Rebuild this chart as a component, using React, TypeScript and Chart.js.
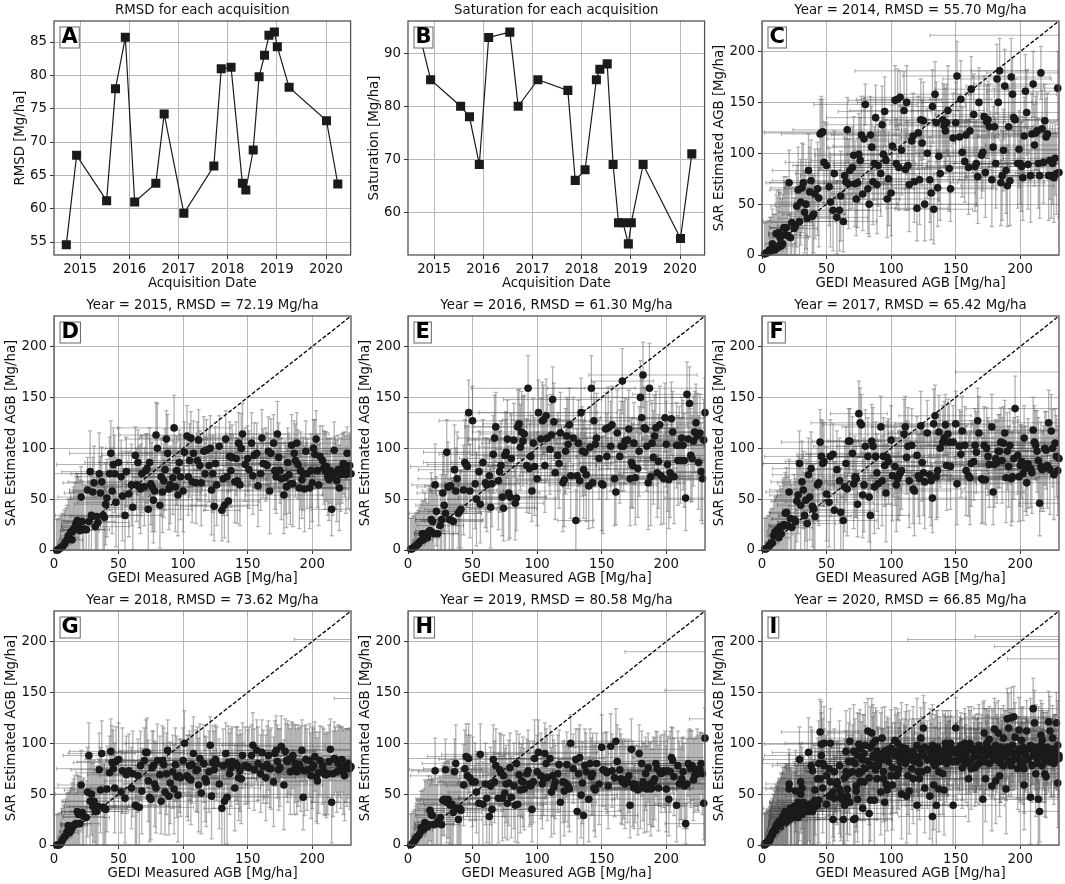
import { useEffect, useRef } from "react";
import Chart from "chart.js/auto";

const acquisitionDates = [
  2014.72, 2014.93, 2015.54, 2015.72, 2015.92, 2016.11, 2016.54, 2016.71, 2017.11, 2017.72, 2017.87, 2018.07,
  2018.3, 2018.37, 2018.52, 2018.64, 2018.75, 2018.84, 2018.95, 2019.01, 2019.25, 2020.01, 2020.24,
];
const rmsdValues = [
  54.6, 68, 61.2, 78, 85.7, 61, 63.8, 74.2, 59.3, 66.4, 81, 81.2, 63.8, 62.8, 68.8, 79.8, 83, 86, 86.5, 84.3, 78.2,
  73.2, 63.7,
];
const saturationValues = [93, 85, 80, 78, 69, 93, 94, 80, 85, 83, 66, 68, 85, 87, 88, 69, 58, 58, 54, 58, 69, 55, 71];

const yearTicks = [2015, 2016, 2017, 2018, 2019, 2020];
const rmsdTicks = [55, 60, 65, 70, 75, 80, 85];
const saturationTicks = [60, 70, 80, 90];
const agbTicks = [0, 50, 100, 150, 200];

// GEDI footprints are the same in every year
const gediAgb = [
  2, 3, 4, 5, 6, 7, 8, 9, 10, 11,
  12, 13, 14, 15, 16, 17, 18, 19, 20, 21,
  22, 23, 25, 26, 27, 28, 29, 30, 31, 32,
  33, 34, 35, 36, 37, 38, 39, 40, 41, 43,
  44, 45, 46, 47, 48, 50, 52, 53, 55, 56,
  58, 60, 61, 63, 64, 65, 66, 67, 68, 70,
  71, 72, 73, 74, 75, 76, 77, 78, 79, 80,
  82, 83, 84, 85, 86, 87, 88, 89, 90, 92,
  93, 94, 95, 96, 97, 98, 100, 101, 103, 104,
  105, 106, 107, 108, 110, 111, 112, 113, 114, 116,
  117, 118, 120, 121, 122, 123, 124, 125, 126, 128,
  130, 131, 132, 133, 134, 135, 136, 137, 138, 140,
  141, 142, 143, 144, 145, 146, 148, 150, 151, 153,
  154, 155, 157, 158, 160, 161, 162, 164, 165, 166,
  167, 168, 170, 171, 172, 173, 174, 175, 176, 178,
  179, 180, 181, 182, 183, 184, 185, 186, 187, 188,
  189, 190, 191, 192, 193, 194, 195, 196, 198, 199,
  200, 201, 202, 203, 204, 205, 206, 208, 209, 210,
  211, 212, 213, 214, 215, 216, 217, 218, 219, 220,
  221, 222, 223, 224, 225, 226, 227, 228, 229, 230,
];
const gediErr = [
  1, 2, 2, 3, 3, 4, 5, 5, 6, 6,
  7, 8, 8, 9, 10, 11, 12, 13, 15, 18,
  14, 16, 18, 14, 20, 22, 28, 18, 24, 26,
  20, 24, 22, 28, 26, 30, 18, 24, 28, 26,
  32, 30, 44, 48, 30, 26, 34, 22, 28, 30,
  24, 32, 22, 26, 34, 30, 42, 28, 24, 36,
  30, 28, 34, 26, 22, 38, 30, 24, 28, 40,
  36, 22, 30, 34, 28, 32, 38, 26, 34, 30,
  44, 28, 36, 22, 40, 30, 34, 46, 36, 24,
  32, 40, 28, 36, 42, 26, 38, 30, 22, 34,
  40, 28, 24, 36, 44, 30, 26, 36, 40, 30,
  14, 34, 26, 30, 28, 24, 42, 32, 26, 20,
  38, 34, 44, 28, 30, 36, 40, 26, 42, 30,
  24, 36, 28, 46, 32, 40, 28, 30, 38, 24,
  32, 44, 26, 36, 30, 40, 28, 46, 34, 30,
  24, 38, 32, 42, 26, 22, 34, 28, 44, 30,
  26, 36, 24, 40, 30, 34, 22, 38, 28, 42,
  32, 26, 44, 36, 30, 28, 40, 24, 34, 46,
  38, 30, 28, 34, 16, 42, 36, 30, 26, 40,
  34, 28, 44, 36, 30, 26, 40, 32, 38, 28,
];

const sar2014 = [
  1, 2, 2, 3, 5, 4, 11, 6, 5, 21,
  7, 22, 17, 9, 11, 27, 20, 27, 19, 71,
  17, 32, 26, 29, 48, 64, 33, 52, 66, 71,
  42, 50, 36, 83, 62, 73, 38, 40, 60, 65,
  56, 119, 120, 121, 91, 88, 67, 52, 44, 80,
  37, 44, 58, 33, 78, 72, 123, 70, 83, 86,
  98, 70, 55, 71, 99, 93, 118, 60, 114, 148,
  65, 50, 118, 106, 72, 90, 135, 69, 88, 80,
  128, 99, 141, 93, 55, 75, 61, 107, 152, 90,
  153, 86, 155, 103, 142, 84, 150, 88, 69, 112,
  117, 72, 46, 120, 74, 133, 110, 132, 50, 100,
  74, 61, 146, 45, 158, 130, 66, 97, 80, 133,
  127, 122, 130, 142, 85, 65, 115, 130, 176, 116,
  153, 101, 92, 118, 86, 122, 163, 138, 87, 90,
  77, 150, 98, 101, 136, 81, 131, 133, 126, 74,
  106, 126, 90, 173, 150, 181, 71, 78, 103, 166,
  83, 68, 126, 73, 175, 158, 135, 133, 90, 104,
  90, 87, 76, 117, 161, 140, 89, 78, 119, 168,
  108, 120, 122, 90, 78, 179, 124, 91, 132, 116,
  119, 78, 93, 78, 90, 76, 95, 80, 164, 81,
];
const sar2014Err = [
  30, 30, 30, 31, 32, 33, 34, 34, 35, 38,
  40, 42, 44, 46, 48, 50, 52, 50, 50, 32,
  24, 34, 30, 34, 40, 42, 36, 42, 44, 38,
  40, 44, 38, 36, 44, 40, 42, 38, 44, 46,
  48, 34, 36, 32, 40, 42, 38, 44, 40, 42,
  36, 40, 44, 30, 38, 42, 32, 44, 38, 40,
  38, 42, 36, 44, 40, 42, 38, 36, 40, 20,
  44, 32, 38, 40, 42, 36, 32, 48, 40, 42,
  38, 44, 34, 40, 38, 46, 42, 40, 34, 44,
  30, 42, 26, 44, 38, 40, 36, 44, 46, 38,
  42, 40, 32, 36, 44, 40, 42, 38, 36, 44,
  42, 46, 36, 34, 32, 40, 38, 44, 46, 36,
  40, 42, 38, 44, 42, 32, 44, 40, 34, 42,
  38, 44, 40, 42, 46, 38, 32, 40, 44, 42,
  46, 34, 42, 38, 40, 44, 36, 38, 42, 46,
  40, 38, 44, 34, 32, 32, 42, 44, 40, 36,
  42, 40, 38, 44, 38, 36, 42, 40, 44, 38,
  40, 44, 42, 38, 36, 42, 44, 46, 40, 32,
  40, 36, 38, 44, 42, 26, 38, 40, 36, 38,
  40, 44, 38, 42, 40, 44, 36, 40, 36, 44,
];

const sar2015 = [
  0, 0, 1, 2, 3, 4, 6, 8, 10, 14,
  12, 18, 10, 20, 22, 26, 29, 24, 19, 52,
  28, 20, 20, 59, 28, 77, 34, 57, 66, 23,
  33, 27, 75, 56, 67, 34, 32, 45, 51, 75,
  95, 58, 84, 75, 47, 86, 72, 53, 34, 77,
  55, 64, 42, 93, 64, 86, 62, 60, 75, 62,
  78, 80, 40, 86, 65, 62, 49, 58, 113, 100,
  44, 72, 57, 68, 79, 109, 95, 60, 64, 71,
  120, 62, 78, 54, 86, 72, 58, 96, 112, 72,
  88, 110, 67, 95, 66, 88, 108, 83, 66, 97,
  75, 98, 83, 100, 59, 75, 43, 85, 64, 102,
  39, 70, 44, 109, 72, 48, 92, 78, 91, 67,
  90, 68, 105, 64, 100, 114, 84, 90, 79, 105,
  73, 93, 95, 63, 75, 110, 85, 84, 83, 97,
  58, 95, 105, 78, 72, 114, 91, 78, 70, 54,
  71, 62, 86, 74, 65, 103, 65, 95, 88, 105,
  84, 61, 78, 69, 75, 60, 97, 75, 61, 78,
  66, 100, 94, 109, 78, 64, 92, 88, 81, 78,
  82, 72, 69, 78, 40, 72, 98, 76, 68, 79,
  61, 74, 80, 85, 84, 74, 95, 77, 83, 75,
];
const sar2015Err = [
  30, 30, 30, 31, 32, 32, 33, 33, 34, 36,
  38, 38, 40, 42, 44, 46, 46, 48, 50, 30,
  40, 44, 44, 32, 40, 40, 44, 34, 36, 46,
  38, 44, 40, 36, 34, 42, 42, 40, 38, 36,
  32, 42, 36, 38, 44, 34, 36, 44, 46, 34,
  42, 40, 42, 28, 36, 32, 40, 44, 38, 38,
  36, 34, 44, 34, 40, 44, 42, 40, 32, 44,
  42, 38, 40, 36, 40, 28, 38, 40, 38, 36,
  32, 44, 34, 40, 32, 42, 40, 30, 30, 38,
  36, 26, 40, 32, 40, 38, 30, 34, 42, 34,
  36, 30, 36, 32, 44, 38, 34, 36, 40, 30,
  30, 36, 32, 28, 38, 40, 34, 36, 32, 40,
  36, 42, 30, 40, 34, 30, 36, 32, 38, 30,
  38, 32, 30, 40, 36, 28, 34, 36, 32, 34,
  42, 34, 28, 38, 36, 32, 34, 32, 40, 38,
  36, 40, 34, 38, 40, 30, 42, 32, 36, 30,
  34, 40, 38, 38, 36, 42, 30, 34, 40, 36,
  38, 28, 34, 28, 36, 40, 30, 34, 36, 38,
  34, 38, 40, 32, 26, 38, 28, 36, 40, 34,
  42, 36, 34, 30, 32, 38, 26, 36, 32, 36,
];

const sar2016 = [
  1, 1, 2, 3, 4, 5, 6, 8, 9, 16,
  10, 16, 14, 12, 18, 19, 30, 28, 16, 64,
  38, 16, 24, 30, 56, 44, 36, 96, 62, 30,
  63, 29, 28, 79, 58, 70, 36, 38, 40, 59,
  86, 84, 82, 135, 58, 127, 65, 50, 77, 45,
  86, 66, 64, 73, 42, 65, 94, 110, 121, 68,
  77, 83, 52, 41, 93, 96, 109, 56, 52, 90,
  108, 46, 51, 121, 124, 101, 116, 107, 114, 83,
  159, 80, 92, 58, 105, 82, 70, 135, 109, 127,
  128, 83, 132, 110, 99, 113, 148, 126, 76, 93,
  85, 115, 66, 69, 97, 112, 104, 123, 73, 110,
  29, 73, 105, 68, 135, 97, 79, 96, 74, 63,
  101, 159, 66, 127, 104, 110, 90, 65, 64, 119,
  92, 120, 102, 123, 70, 57, 115, 92, 102, 166,
  102, 107, 108, 119, 70, 86, 83, 105, 71, 80,
  97, 150, 130, 172, 120, 119, 102, 66, 159, 72,
  105, 91, 112, 120, 76, 87, 123, 73, 70, 130,
  104, 84, 69, 76, 129, 116, 72, 103, 88, 103,
  88, 110, 103, 88, 51, 153, 109, 144, 93, 90,
  107, 116, 125, 112, 86, 115, 77, 70, 108, 135,
];
const sar2016Err = [
  30, 30, 31, 31, 32, 32, 33, 34, 36, 32,
  38, 40, 36, 34, 42, 44, 46, 42, 40, 40,
  34, 38, 34, 44, 40, 48, 38, 32, 44, 40,
  36, 42, 40, 44, 42, 46, 34, 40, 38, 44,
  42, 48, 40, 32, 46, 34, 44, 46, 40, 38,
  42, 44, 46, 36, 40, 42, 38, 42, 34, 48,
  40, 44, 38, 32, 42, 40, 38, 46, 40, 44,
  36, 36, 32, 36, 34, 42, 40, 44, 38, 46,
  32, 44, 40, 30, 44, 48, 46, 32, 40, 38,
  34, 46, 36, 42, 44, 40, 32, 38, 46, 42,
  44, 40, 48, 46, 42, 38, 44, 36, 42, 40,
  30, 46, 42, 40, 34, 44, 48, 42, 46, 42,
  40, 32, 44, 38, 42, 44, 40, 46, 48, 36,
  42, 40, 44, 38, 46, 32, 42, 46, 44, 32,
  44, 42, 40, 38, 46, 44, 42, 40, 46, 48,
  44, 36, 38, 32, 40, 40, 44, 46, 44, 48,
  42, 46, 40, 36, 44, 46, 38, 48, 44, 34,
  42, 46, 48, 44, 36, 40, 46, 42, 44, 38,
  42, 40, 44, 46, 32, 32, 40, 36, 46, 42,
  44, 40, 38, 42, 46, 38, 48, 44, 40, 34,
];

const sar2017 = [
  1, 1, 2, 3, 5, 7, 7, 14, 18, 15,
  20, 12, 23, 16, 23, 25, 36, 37, 24, 57,
  31, 22, 30, 28, 48, 54, 85, 44, 67, 59,
  34, 49, 26, 74, 52, 80, 43, 40, 33, 64,
  66, 106, 92, 85, 87, 55, 47, 92, 94, 39,
  79, 68, 37, 29, 62, 85, 60, 107, 107, 95,
  65, 72, 70, 45, 134, 125, 123, 54, 64, 102,
  92, 52, 34, 107, 102, 62, 92, 76, 65, 121,
  68, 92, 83, 56, 91, 87, 108, 73, 82, 64,
  70, 73, 76, 78, 114, 121, 91, 102, 68, 103,
  60, 58, 93, 73, 70, 122, 86, 76, 67, 115,
  74, 68, 51, 124, 132, 72, 78, 116, 100, 106,
  110, 123, 83, 114, 106, 82, 106, 124, 65, 102,
  94, 117, 103, 78, 73, 71, 85, 87, 103, 96,
  127, 115, 70, 69, 103, 69, 100, 92, 84, 121,
  57, 84, 90, 86, 97, 97, 106, 88, 105, 115,
  71, 97, 82, 103, 70, 72, 90, 139, 93, 72,
  83, 87, 75, 110, 80, 66, 85, 80, 76, 118,
  106, 103, 97, 88, 46, 82, 79, 80, 100, 98,
  83, 125, 79, 117, 100, 74, 105, 92, 78, 90,
];
const sar2017Err = [
  30, 30, 31, 31, 32, 33, 34, 34, 34, 38,
  38, 42, 40, 44, 46, 46, 40, 44, 48, 32,
  38, 42, 44, 42, 40, 38, 32, 46, 40, 38,
  42, 40, 44, 36, 42, 36, 40, 44, 46, 36,
  42, 32, 36, 42, 38, 46, 44, 36, 30, 48,
  38, 42, 44, 42, 44, 36, 46, 32, 32, 36,
  44, 40, 38, 32, 32, 34, 30, 42, 46, 36,
  38, 44, 40, 36, 38, 46, 34, 38, 44, 30,
  44, 38, 40, 48, 36, 42, 34, 44, 38, 46,
  40, 44, 42, 38, 34, 30, 36, 38, 46, 36,
  34, 44, 38, 40, 44, 34, 38, 42, 46, 32,
  42, 44, 34, 34, 30, 42, 46, 36, 38, 36,
  36, 30, 44, 34, 38, 42, 36, 32, 40, 36,
  42, 34, 38, 44, 40, 46, 42, 38, 36, 40,
  32, 36, 44, 42, 38, 44, 40, 38, 42, 32,
  32, 42, 38, 40, 36, 36, 34, 42, 36, 32,
  44, 38, 40, 36, 46, 44, 40, 32, 38, 44,
  40, 36, 46, 32, 42, 32, 44, 38, 40, 32,
  36, 34, 40, 42, 32, 44, 38, 42, 36, 38,
  42, 32, 44, 36, 38, 44, 34, 40, 44, 38,
];

const sar2018 = [
  0, 0, 0, 1, 4, 6, 8, 9, 13, 19,
  12, 14, 17, 19, 20, 21, 33, 30, 21, 59,
  32, 28, 27, 52, 88, 43, 50, 38, 43, 33,
  33, 38, 74, 54, 90, 37, 36, 35, 55, 71,
  92, 81, 75, 56, 82, 84, 52, 73, 46, 69,
  73, 56, 70, 39, 38, 68, 37, 78, 53, 83,
  91, 91, 63, 47, 45, 76, 78, 60, 56, 83,
  69, 43, 83, 79, 52, 70, 93, 48, 61, 72,
  55, 79, 67, 49, 68, 66, 83, 100, 68, 66,
  78, 64, 79, 90, 73, 74, 59, 85, 51, 80,
  65, 62, 72, 98, 48, 81, 74, 84, 80, 60,
  36, 78, 43, 90, 47, 81, 70, 76, 82, 56,
  80, 78, 66, 73, 65, 88, 78, 77, 76, 88,
  98, 74, 93, 80, 70, 91, 77, 66, 79, 88,
  75, 75, 62, 90, 93, 82, 74, 76, 97, 59,
  92, 83, 82, 84, 72, 85, 88, 74, 80, 72,
  78, 79, 75, 93, 47, 73, 84, 74, 83, 68,
  76, 78, 87, 67, 63, 71, 83, 78, 72, 69,
  69, 70, 82, 94, 42, 70, 85, 84, 72, 80,
  83, 76, 84, 72, 68, 78, 76, 80, 75, 77,
];
const sar2018Err = [
  30, 30, 31, 31, 32, 33, 34, 36, 38, 32,
  40, 42, 44, 46, 48, 30, 36, 38, 46, 34,
  32, 38, 36, 44, 32, 44, 40, 42, 40, 38,
  44, 40, 36, 42, 32, 42, 44, 40, 42, 36,
  32, 36, 38, 44, 34, 36, 40, 42, 44, 38,
  36, 40, 42, 44, 40, 36, 44, 34, 42, 32,
  32, 34, 40, 44, 40, 36, 34, 42, 44, 36,
  38, 32, 34, 36, 42, 40, 30, 38, 40, 36,
  44, 36, 40, 46, 36, 38, 32, 32, 40, 42,
  34, 44, 38, 36, 40, 42, 46, 34, 40, 38,
  42, 44, 40, 28, 42, 36, 38, 34, 36, 44,
  42, 36, 44, 30, 46, 36, 40, 38, 34, 42,
  36, 38, 42, 40, 44, 32, 38, 36, 40, 30,
  32, 40, 30, 36, 38, 32, 36, 42, 38, 34,
  38, 40, 44, 32, 34, 36, 40, 38, 30, 44,
  32, 36, 40, 34, 42, 36, 32, 44, 38, 42,
  40, 36, 42, 30, 32, 44, 34, 40, 36, 42,
  40, 36, 34, 44, 42, 40, 34, 38, 42, 40,
  42, 40, 36, 30, 40, 42, 36, 32, 40, 38,
  34, 40, 32, 42, 44, 36, 38, 34, 40, 36,
];

const sar2019 = [
  0, 1, 2, 4, 6, 8, 9, 11, 17, 15,
  15, 22, 18, 18, 20, 34, 30, 29, 20, 73,
  21, 23, 27, 20, 44, 45, 74, 42, 45, 40,
  39, 40, 32, 72, 80, 36, 25, 36, 34, 59,
  75, 87, 68, 85, 66, 62, 62, 52, 41, 89,
  40, 60, 46, 28, 58, 35, 84, 62, 78, 46,
  74, 71, 46, 68, 51, 60, 41, 61, 76, 47,
  58, 39, 80, 40, 69, 54, 63, 62, 55, 70,
  73, 60, 58, 35, 62, 85, 72, 91, 68, 60,
  65, 90, 80, 66, 85, 52, 68, 57, 62, 70,
  79, 42, 62, 53, 61, 79, 58, 55, 100, 75,
  84, 33, 70, 86, 49, 61, 29, 78, 72, 45,
  80, 67, 70, 56, 54, 80, 60, 96, 74, 73,
  71, 58, 97, 73, 66, 102, 82, 74, 65, 62,
  64, 60, 62, 68, 39, 94, 60, 56, 60, 54,
  90, 56, 80, 62, 56, 70, 55, 76, 60, 55,
  56, 62, 65, 80, 75, 56, 72, 70, 73, 72,
  55, 73, 45, 72, 86, 83, 67, 39, 78, 60,
  61, 65, 72, 58, 21, 60, 80, 78, 75, 78,
  64, 68, 72, 74, 70, 75, 80, 70, 41, 105,
];
const sar2019Err = [
  30, 30, 31, 31, 32, 33, 34, 35, 36, 38,
  40, 42, 44, 46, 48, 30, 34, 36, 44, 32,
  38, 42, 40, 44, 34, 36, 30, 40, 38, 42,
  38, 44, 42, 32, 38, 44, 40, 36, 42, 40,
  38, 32, 40, 34, 42, 44, 38, 40, 44, 30,
  42, 40, 44, 32, 38, 42, 34, 40, 36, 44,
  36, 38, 42, 40, 44, 38, 36, 42, 34, 40,
  42, 36, 32, 38, 40, 42, 36, 44, 40, 34,
  40, 42, 38, 32, 40, 38, 36, 32, 42, 44,
  36, 30, 34, 42, 32, 44, 40, 46, 36, 38,
  34, 42, 40, 44, 38, 32, 40, 42, 28, 34,
  30, 36, 44, 32, 42, 40, 34, 36, 38, 42,
  34, 38, 40, 42, 46, 30, 40, 32, 36, 38,
  40, 42, 32, 36, 38, 32, 36, 40, 44, 42,
  38, 44, 40, 36, 32, 30, 42, 40, 38, 44,
  28, 40, 32, 38, 44, 36, 42, 34, 40, 46,
  38, 44, 40, 32, 36, 42, 34, 38, 36, 40,
  42, 34, 36, 40, 30, 32, 38, 36, 34, 42,
  36, 40, 34, 42, 20, 44, 32, 36, 38, 34,
  40, 36, 34, 40, 38, 36, 30, 40, 36, 30,
];

const sar2020 = [
  0, 1, 2, 3, 5, 8, 10, 13, 15, 17,
  18, 20, 22, 24, 22, 26, 33, 28, 24, 60,
  36, 30, 27, 53, 35, 42, 84, 62, 56, 40,
  38, 33, 36, 91, 33, 78, 73, 36, 54, 65,
  44, 111, 99, 80, 100, 68, 48, 100, 25, 46,
  60, 55, 46, 25, 39, 72, 48, 70, 102, 82,
  25, 26, 53, 45, 99, 62, 85, 36, 90, 75,
  112, 31, 44, 110, 88, 44, 103, 65, 78, 52,
  105, 65, 42, 85, 54, 90, 68, 59, 103, 68,
  100, 75, 85, 50, 92, 95, 48, 85, 53, 75,
  65, 88, 39, 72, 65, 105, 90, 115, 56, 74,
  48, 95, 28, 59, 78, 39, 90, 55, 82, 70,
  54, 100, 88, 85, 92, 95, 39, 115, 82, 90,
  98, 76, 95, 80, 65, 100, 75, 92, 76, 88,
  95, 80, 92, 45, 110, 65, 100, 92, 104, 58,
  86, 114, 63, 92, 110, 68, 80, 92, 105, 88,
  55, 124, 115, 95, 125, 90, 126, 106, 75, 113,
  80, 103, 80, 59, 90, 112, 85, 47, 95, 134,
  120, 70, 85, 45, 33, 108, 103, 92, 70, 67,
  90, 121, 112, 85, 105, 88, 92, 120, 61, 85,
];
// panel I is denser, a second pass of acquisitions on the same footprints
const sar2020Second = [
  1, 2, 3, 4, 6, 9, 12, 14, 16, 19,
  21, 23, 20, 25, 28, 30, 26, 32, 29, 55,
  30, 34, 38, 31, 33, 27, 36, 50, 30, 42,
  34, 37, 35, 38, 40, 36, 33, 42, 44, 39,
  80, 65, 88, 56, 78, 40, 75, 62, 52, 72,
  62, 78, 50, 44, 66, 92, 55, 82, 42, 72,
  92, 80, 58, 88, 70, 95, 72, 84, 62, 98,
  82, 66, 96, 78, 100, 86, 74, 92, 80, 88,
  84, 72, 92, 60, 86, 82, 95, 76, 88, 92,
  70, 90, 82, 96, 86, 80, 92, 68, 90, 84,
  92, 82, 98, 86, 80, 94, 72, 88, 96, 84,
  92, 85, 98, 80, 90, 86, 96, 72, 88, 92,
  84, 94, 80, 96, 88, 100, 82, 90, 94, 86,
  92, 84, 100, 88, 94, 82, 96, 86, 90, 78,
  90, 98, 84, 94, 82, 92, 88, 96, 80, 90,
  94, 84, 98, 88, 92, 82, 96, 86, 78, 94,
  88, 96, 82, 92, 78, 98, 84, 90, 86, 94,
  82, 92, 96, 75, 88, 94, 84, 98, 78, 90,
  88, 96, 80, 92, 86, 98, 78, 94, 84, 90,
  96, 82, 90, 86, 94, 80, 92, 84, 98, 88,
];
const sar2020Err = [
  30, 30, 31, 31, 32, 33, 34, 36, 38, 40,
  40, 42, 44, 46, 48, 46, 44, 48, 50, 34,
  40, 42, 44, 40, 44, 42, 32, 38, 40, 46,
  42, 44, 40, 34, 46, 38, 40, 42, 44, 40,
  42, 32, 42, 44, 36, 40, 46, 34, 44, 42,
  40, 44, 42, 46, 38, 40, 44, 38, 32, 36,
  46, 44, 40, 42, 30, 38, 36, 44, 38, 42,
  32, 46, 40, 34, 38, 44, 32, 40, 36, 42,
  30, 42, 44, 36, 40, 34, 38, 44, 32, 36,
  34, 40, 38, 44, 32, 36, 46, 38, 42, 40,
  44, 36, 46, 38, 40, 30, 36, 32, 44, 38,
  42, 34, 40, 44, 38, 46, 36, 42, 38, 40,
  44, 32, 38, 36, 34, 32, 44, 30, 38, 36,
  32, 40, 34, 38, 42, 32, 40, 34, 38, 36,
  34, 40, 36, 46, 32, 42, 34, 36, 32, 44,
  38, 30, 42, 36, 32, 40, 38, 36, 32, 38,
  44, 30, 34, 38, 30, 36, 30, 34, 40, 32,
  38, 32, 40, 44, 36, 30, 38, 46, 36, 30,
  32, 42, 38, 44, 30, 34, 36, 38, 42, 40,
  36, 30, 34, 38, 32, 40, 36, 30, 44, 38,
];

// footprints right of the axis limit: only their left whiskers show [agb, sar, agbErr]
const offAxis2014 = [[270, 216, 140], [300, 181, 228]];
const offAxis2017 = [[270, 175, 120]];
const offAxis2018 = [[280, 202, 94], [270, 144, 53]];
const offAxis2019 = [[260, 190, 92], [260, 152, 61], [250, 124, 32]];
const offAxis2020 = [[270, 202, 157], [300, 205, 135], [280, 195, 100], [270, 183, 80]];

const FONT = "'DejaVu Sans', sans-serif";
const FONT_SIZE = 13.3;
const INK = "#1a1a1a";
const AGB_MAX = 230;

const errorBarPlugin = {
  id: "errorBars",
  beforeDatasetsDraw(chart: any) {
    const { ctx, chartArea, scales } = chart;
    const cap = 2;
    ctx.save();
    ctx.beginPath();
    ctx.rect(chartArea.left, chartArea.top, chartArea.width, chartArea.height);
    ctx.clip();
    ctx.strokeStyle = "rgba(70, 70, 70, 0.42)";
    chart.data.datasets.forEach((ds: any) => {
      ds.data.forEach((p: any) => {
        if (p.xErr === undefined) return;
        const px = scales.x.getPixelForValue(p.x);
        const py = scales.y.getPixelForValue(p.y);
        const x0 = scales.x.getPixelForValue(p.x - p.xErr);
        const x1 = scales.x.getPixelForValue(p.x + p.xErr);
        const y0 = scales.y.getPixelForValue(p.y - p.yErr);
        const y1 = scales.y.getPixelForValue(p.y + p.yErr);
        ctx.lineWidth = 1;
        ctx.beginPath();
        ctx.moveTo(x0, py);
        ctx.lineTo(x1, py);
        ctx.moveTo(x0, py - cap);
        ctx.lineTo(x0, py + cap);
        ctx.moveTo(x1, py - cap);
        ctx.lineTo(x1, py + cap);
        ctx.stroke();
        if (p.yErr > 0) {
          ctx.lineWidth = 1.3;
          ctx.beginPath();
          ctx.moveTo(px, y0);
          ctx.lineTo(px, y1);
          ctx.moveTo(px - cap, y0);
          ctx.lineTo(px + cap, y0);
          ctx.moveTo(px - cap, y1);
          ctx.lineTo(px + cap, y1);
          ctx.stroke();
        }
      });
    });
    ctx.restore();
  },
};

// axes frame and the A-I panel letter
const framePlugin = {
  id: "panelFrame",
  afterDatasetsDraw(chart: any, _args: any, opts: any) {
    const { ctx, chartArea } = chart;
    ctx.save();
    ctx.strokeStyle = "#555";
    ctx.lineWidth = 1.3;
    ctx.strokeRect(chartArea.left, chartArea.top, chartArea.width, chartArea.height);
    ctx.font = `bold 21px ${FONT}`;
    const w = ctx.measureText(opts.letter).width + 3;
    const bx = chartArea.left + 6;
    const by = chartArea.top + 6;
    ctx.fillStyle = "#fff";
    ctx.fillRect(bx, by, w, 21);
    ctx.strokeStyle = "#666";
    ctx.lineWidth = 1;
    ctx.strokeRect(bx, by, w, 21);
    ctx.fillStyle = "#000";
    ctx.textAlign = "center";
    ctx.textBaseline = "middle";
    ctx.fillText(opts.letter, bx + w / 2, by + 11);
    ctx.restore();
  },
};

const axis = (
  label: string,
  min: number,
  max: number,
  tickValues: number[],
  titlePadding: any,
  size: any,
) => ({
  type: "linear",
  min,
  max,
  afterBuildTicks: (scale: any) => {
    scale.ticks = tickValues.map((value) => ({ value }));
  },
  afterFit: (scale: any) => {
    if (size.width) scale.width = size.width;
    if (size.height) scale.height = size.height;
  },
  grid: { color: "#b8b8b8", lineWidth: 1, tickColor: "#333", tickLength: 4 },
  border: { display: false },
  ticks: {
    color: "#111",
    font: { family: FONT, size: FONT_SIZE },
    padding: 3,
    autoSkip: false,
    maxRotation: 0,
    callback: (v: any) => String(v),
  },
  title: {
    display: true,
    text: label,
    color: "#111",
    font: { family: FONT, size: FONT_SIZE },
    padding: titlePadding,
  },
});

const makeConfig = (
  letter: string,
  title: string,
  xAxis: any,
  yAxis: any,
  datasets: any[],
) => ({
  type: "scatter",
  data: { datasets },
  options: {
    animation: false,
    responsive: false,
    events: [],
    layout: { padding: { left: 0, right: 6, top: 0, bottom: 0 } },
    plugins: {
      legend: { display: false },
      tooltip: { enabled: false },
      title: {
        display: true,
        text: title,
        fullSize: false,
        color: "#111",
        font: { family: FONT, size: FONT_SIZE, weight: "normal" },
        padding: { top: 3, bottom: 2.04 },
      },
      panelFrame: { letter },
    },
    scales: { x: xAxis, y: yAxis },
  },
  plugins: [errorBarPlugin, framePlugin],
});

const timeConfig = (
  letter: string,
  title: string,
  yLabel: string,
  values: number[],
  yMin: number,
  yMax: number,
  yTicks: number[],
) =>
  makeConfig(
    letter,
    title,
    axis("Acquisition Date", 2014.47, 2020.5, yearTicks, { top: 0, bottom: 3 }, { height: 40 }),
    axis(yLabel, yMin, yMax, yTicks, { top: 12.5, bottom: 0 }, { width: 54 }),
    [
      {
        data: acquisitionDates.map((x, i) => ({ x, y: values[i] })),
        showLine: true,
        borderColor: INK,
        borderWidth: 1.2,
        backgroundColor: INK,
        pointStyle: "rect",
        pointRadius: 6.4,
        pointBorderWidth: 0,
      },
    ],
  );

const agbConfig = (
  letter: string,
  year: number,
  rmsd: string,
  passes: number[][],
  errs: number[],
  offAxis: number[][],
) => {
  const points = passes.flatMap((sar) =>
    gediAgb.map((x, i) => ({ x, y: sar[i], xErr: gediErr[i], yErr: errs[i] })),
  );
  offAxis.forEach(([x, y, xErr]) => points.push({ x, y, xErr, yErr: 0 }));
  return makeConfig(
    letter,
    `Year = ${year}, RMSD = ${rmsd} Mg/ha`,
    axis("GEDI Measured AGB [Mg/ha]", 0, AGB_MAX, agbTicks, { top: 0, bottom: 3 }, { height: 40 }),
    axis("SAR Estimated AGB [Mg/ha]", 0, AGB_MAX, agbTicks, { top: 4, bottom: 0 }, { width: 54 }),
    [
      {
        data: points,
        backgroundColor: INK,
        pointRadius: 3.8,
        pointBorderWidth: 0,
        clip: false,
      },
      {
        data: [
          { x: 0, y: 0 },
          { x: AGB_MAX, y: AGB_MAX },
        ],
        showLine: true,
        borderColor: "#000",
        borderWidth: 1.3,
        borderDash: [4, 2],
        pointRadius: 0,
      },
    ],
  );
};

const PANEL_W = 357;
const PANEL_H = 295;

const panels = [
  { left: 0, top: 0, config: () => timeConfig("A", "RMSD for each acquisition", "RMSD [Mg/ha]", rmsdValues, 53.05, 88.15, rmsdTicks) },
  { left: 354, top: 0, config: () => timeConfig("B", "Saturation for each acquisition", "Saturation [Mg/ha]", saturationValues, 51.9, 96.1, saturationTicks) },
  { left: 708, top: 0, config: () => agbConfig("C", 2014, "55.70", [sar2014], sar2014Err, offAxis2014) },
  { left: 0, top: 295, config: () => agbConfig("D", 2015, "72.19", [sar2015], sar2015Err, []) },
  { left: 354, top: 295, config: () => agbConfig("E", 2016, "61.30", [sar2016], sar2016Err, []) },
  { left: 708, top: 295, config: () => agbConfig("F", 2017, "65.42", [sar2017], sar2017Err, offAxis2017) },
  { left: 0, top: 590, config: () => agbConfig("G", 2018, "73.62", [sar2018], sar2018Err, offAxis2018) },
  { left: 354, top: 590, config: () => agbConfig("H", 2019, "80.58", [sar2019], sar2019Err, offAxis2019) },
  { left: 708, top: 590, config: () => agbConfig("I", 2020, "66.85", [sar2020, sar2020Second], sar2020Err, offAxis2020) },
];

const Panel = ({ left, top, config }: { left: number; top: number; config: () => any }) => {
  const chartRef = useRef<HTMLCanvasElement>(null);

  useEffect(() => {
    if (!chartRef.current) return;
    const chart = new Chart(chartRef.current, config());
    return () => {
      chart.destroy();
    };
  }, []);

  return (
    <div style={{ position: "absolute", left, top, width: PANEL_W, height: PANEL_H }}>
      <canvas ref={chartRef} width={PANEL_W} height={PANEL_H} />
    </div>
  );
};

const App = () => (
  <div style={{ position: "absolute", left: 0, top: 0, width: 1065, height: 884, background: "#fff", overflow: "hidden" }}>
    {panels.map((p, i) => (
      <Panel key={i} left={p.left} top={p.top} config={p.config} />
    ))}
  </div>
);

export default App;
